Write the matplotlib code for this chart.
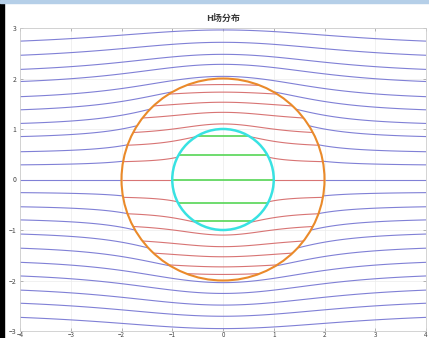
import numpy as np
import matplotlib.pyplot as plt
from matplotlib.patches import Circle, Rectangle

plt.rcParams['font.family'] = ['Noto Sans CJK SC', 'DejaVu Sans']
plt.rcParams['contour.negative_linestyle'] = 'solid'

# 圆筒内外半径
r_in = 1.0
r_out = 2.0

# 蓝线(外部): x=-4 处的 y 值
blue_y_left = [2.74, 2.46, 2.18, 1.94, 1.64, 1.38, 1.11, 0.85, 0.55, 0.29, 0.0,
               -0.26, -0.54, -0.80, -1.08, -1.36, -1.64, -1.91, -2.19, -2.45, -2.73]
# 红线(筒壁): 从内圆上下绕过的, x=0 处的 y 值
red_y_mid = [1.88, 1.73, 1.53, 1.33, 1.10, -1.10, -1.33, -1.53, -1.73, -1.88]
# 红线(筒壁): 碰到内圆的, x=-1.5 处的 y 值
red_y_side = [0.70, 0.37, 0.0, -0.37, -0.70]
# 绿线(内部): y 值
green_y = [0.86, 0.49, 0.0, -0.47, -0.83]

# 场函数形状参数
k_out = -1.0
k_shell = -0.25


def psi(x, y, k):
    return (1 + k / (x ** 2 + y ** 2)) * y


x = np.linspace(-4, 4, 800)
y = np.linspace(-3, 3, 600)
X, Y = np.meshgrid(x, y)
R = np.sqrt(X ** 2 + Y ** 2)

fig = plt.figure(figsize=(4.29, 3.38), dpi=100)
ax = fig.add_axes([20 / 429, 7 / 338, 406 / 429, 303 / 338])

# 外部
Z_out = np.ma.masked_where(R < r_out, psi(X, Y, k_out))
lv_out = sorted(set(psi(-4.0, v, k_out) for v in blue_y_left))
ax.contour(X, Y, Z_out, levels=lv_out, colors='#8080d6', linewidths=0.8)

# 筒壁
Z_sh = np.ma.masked_where((R > r_out) | (R < r_in), psi(X, Y, k_shell))
lv_sh = [psi(1e-9, v, k_shell) for v in red_y_mid]
lv_sh += [psi(-1.5, v, k_shell) for v in red_y_side]
lv_sh = sorted(set(lv_sh))
ax.contour(X, Y, Z_sh, levels=lv_sh, colors='#d87474', linewidths=0.8)

# 内部
Z_in = np.ma.masked_where(R > r_in, Y)
ax.contour(X, Y, Z_in, levels=sorted(green_y), colors='#55d655', linewidths=1.2)

ax.add_patch(Circle((0, 0), r_out, fill=False, ec='#ea8a2a', lw=1.5, zorder=5))
ax.add_patch(Circle((0, 0), r_in, fill=False, ec='#38e2e2', lw=1.8, zorder=5))

ax.set_xlim(-4, 4)
ax.set_ylim(-3, 3)
ax.set_xticks(range(-4, 5))
ax.set_yticks(range(-3, 4))
ax.grid(color='#ececec', lw=0.5)
ax.set_axisbelow(True)
ax.tick_params(direction='in', top=True, right=True, length=2.5, width=0.5,
               colors='#999999', labelcolor='#444444', labelsize=5, pad=2.5)
ax.tick_params(axis='x', pad=0.3, labelsize=4.5)
for s in ax.spines.values():
    s.set_color('#cccccc')
    s.set_linewidth(0.6)
ax.set_title('H场分布', fontsize=6.5, fontweight='bold', color='#3a3a3a', pad=5)

# 截图边框
fig.patches.append(Rectangle((0, 0), 4 / 429, 1, transform=fig.transFigure,
                             color='black', zorder=10))
fig.patches.append(Rectangle((0, 1 - 3 / 338), 1, 3 / 338, transform=fig.transFigure,
                             color='#b5cfe8', zorder=10))

fig.savefig('out.png', dpi=100)
